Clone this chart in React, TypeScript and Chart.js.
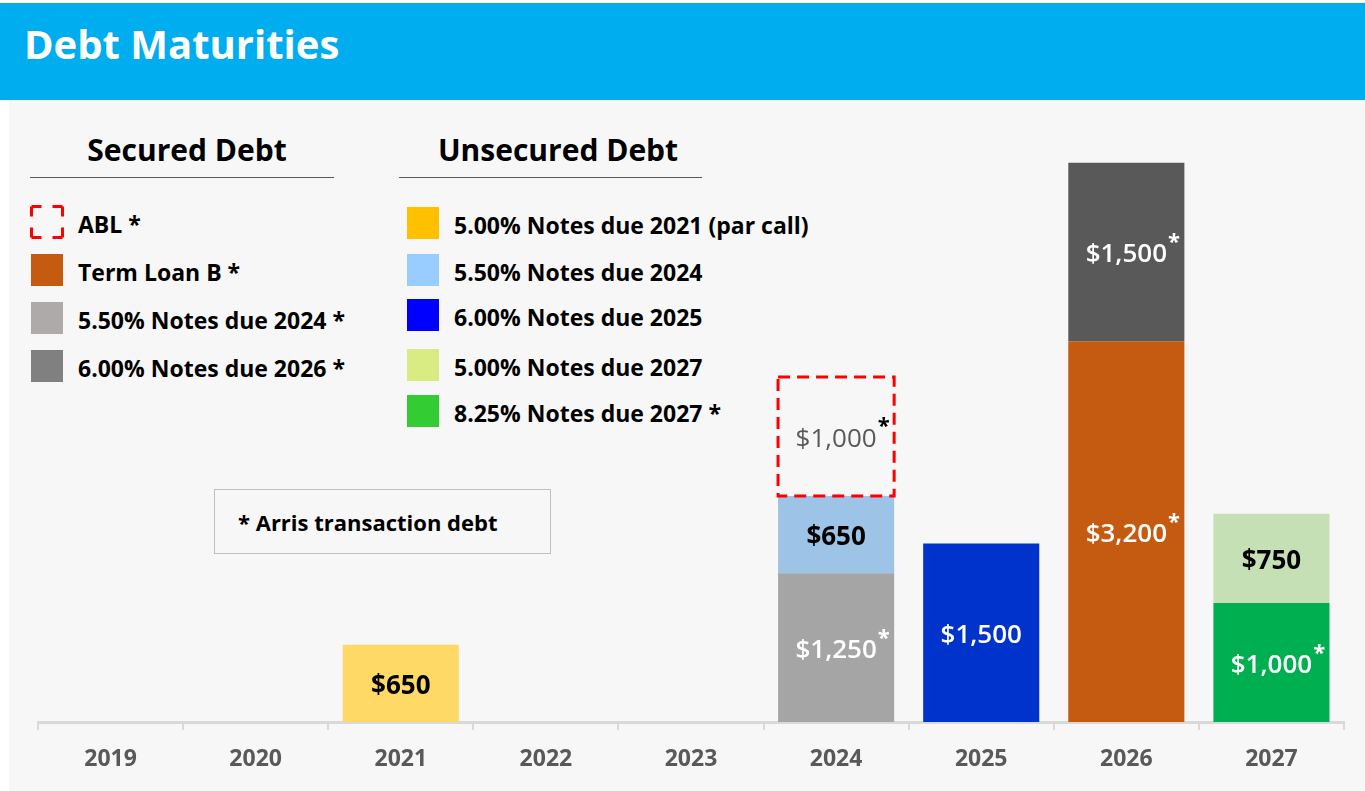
import React, { useEffect, useRef } from "react";
import { Chart, registerables } from "chart.js";

Chart.register(...registerables);

// ---------- DATA ----------
const years = ["2019", "2020", "2021", "2022", "2023", "2024", "2025", "2026", "2027"];
const secNotes550due2024 = [null, null, null, null, null, 1250, null, null, null];
const notes500due2021 = [null, null, 650, null, null, null, null, null, null];
const notes600due2025 = [null, null, null, null, null, null, 1500, null, null];
const termLoanB = [null, null, null, null, null, null, null, 3200, null];
const notes825due2027 = [null, null, null, null, null, null, null, null, 1000];
const unsecNotes550due2024 = [null, null, null, null, null, 650, null, null, null];
const secNotes600due2026 = [null, null, null, null, null, null, null, 1500, null];
const notes500due2027 = [null, null, null, null, null, null, null, null, 750];
const abl = [null, null, null, null, null, 1000, null, null, null];

const securedLegend = [
  { label: "ABL *", color: "dashed" },
  { label: "Term Loan B *", color: "#C55A11" },
  { label: "5.50% Notes due 2024 *", color: "#AEAAAA" },
  { label: "6.00% Notes due 2026 *", color: "#808080" },
];
const unsecuredLegend = [
  { label: "5.00% Notes due 2021 (par call)", color: "#FFC000" },
  { label: "5.50% Notes due 2024", color: "#99CCFF" },
  { label: "6.00% Notes due 2025", color: "#0000FF" },
  { label: "5.00% Notes due 2027", color: "#D9EC83" },
  { label: "8.25% Notes due 2027 *", color: "#33CC33" },
];

// ---------- STYLES ----------
const FONT = "'Open Sans', 'Noto Sans', sans-serif";
const seriesDefs = [
  { name: "5.50% Notes due 2024 * (secured)", data: secNotes550due2024, bg: "#A5A5A5", txt: "#FFFFFF", star: "#FFFFFF", weight: "600", dashed: false },
  { name: "5.00% Notes due 2021", data: notes500due2021, bg: "#FFD966", txt: "#000000", star: null, weight: "bold", dashed: false },
  { name: "6.00% Notes due 2025", data: notes600due2025, bg: "#0033CC", txt: "#FFFFFF", star: null, weight: "600", dashed: false },
  { name: "Term Loan B *", data: termLoanB, bg: "#C55A11", txt: "#FFFFFF", star: "#FFFFFF", weight: "600", dashed: false },
  { name: "8.25% Notes due 2027 *", data: notes825due2027, bg: "#00B050", txt: "#FFFFFF", star: "#FFFFFF", weight: "600", dashed: false },
  { name: "5.50% Notes due 2024", data: unsecNotes550due2024, bg: "#9DC3E6", txt: "#000000", star: null, weight: "bold", dashed: false },
  { name: "6.00% Notes due 2026 *", data: secNotes600due2026, bg: "#595959", txt: "#FFFFFF", star: "#FFFFFF", weight: "600", dashed: false },
  { name: "5.00% Notes due 2027", data: notes500due2027, bg: "#C5E0B4", txt: "#000000", star: null, weight: "bold", dashed: false },
  { name: "ABL *", data: abl, bg: "rgba(0,0,0,0)", txt: "#595959", star: "#000000", weight: "normal", dashed: true },
];

const labelPlugin = {
  id: "barLabels",
  afterDatasetsDraw(chart: any) {
    const ctx = chart.ctx;
    ctx.save();
    chart.data.datasets.forEach((ds: any, i: number) => {
      const def = seriesDefs[i];
      const meta = chart.getDatasetMeta(i);
      meta.data.forEach((el: any, j: number) => {
        const v = ds.data[j];
        if (v == null) return;
        const p = el.getProps(["x", "y", "base", "width"], true);
        const left = p.x - p.width / 2;
        const top = Math.min(p.y, p.base);
        const bottom = Math.max(p.y, p.base);
        if (def.dashed) {
          ctx.save();
          ctx.strokeStyle = "#FF0000";
          ctx.lineWidth = 3;
          ctx.setLineDash([12, 7]);
          ctx.strokeRect(left, top, p.width, bottom - top);
          ctx.restore();
        }
        const cy = (top + bottom) / 2 + 3;
        const text = "$" + Number(v).toLocaleString("en-US");
        ctx.font = `${def.weight} 26px ${FONT}`;
        ctx.fillStyle = def.txt;
        ctx.textAlign = "center";
        ctx.textBaseline = "middle";
        ctx.fillText(text, p.x, cy);
        if (def.star) {
          const w = ctx.measureText(text).width;
          ctx.font = `bold 22px ${FONT}`;
          ctx.fillStyle = def.star;
          ctx.textAlign = "left";
          ctx.textBaseline = "alphabetic";
          ctx.fillText("*", p.x + w / 2 + 1, cy - 6);
        }
      });
    });
    ctx.restore();
  },
};

function LegendRow({ item, x, cy, textX }: any) {
  return (
    <div style={{ position: "absolute", left: 0, top: cy, width: 0, height: 0 }}>
      {item.color === "dashed" ? (
        <svg width="34" height="34" style={{ position: "absolute", left: x - 1, top: -17 }}>
          <rect x="1.5" y="1.5" width="31" height="31" fill="none" stroke="#FF0000" strokeWidth="3" strokeDasharray="10 11 10 0" />
        </svg>
      ) : (
        <div style={{ position: "absolute", left: x, top: -16, width: 32, height: 32, background: item.color }} />
      )}
      <div
        style={{
          position: "absolute",
          left: textX,
          top: -16,
          height: 36,
          lineHeight: "36px",
          whiteSpace: "nowrap",
          fontFamily: FONT,
          fontWeight: 700,
          fontSize: 23,
          color: "#000",
        }}
      >
        {item.label}
      </div>
    </div>
  );
}

export default function App() {
  const canvasRef = useRef<HTMLCanvasElement | null>(null);

  useEffect(() => {
    if (!canvasRef.current) return;
    const chart = new Chart(canvasRef.current, {
      type: "bar",
      data: {
        labels: years,
        datasets: seriesDefs.map((d) => ({
          label: d.name,
          data: d.data as any,
          backgroundColor: d.bg,
          borderWidth: 0,
          categoryPercentage: 1,
          barPercentage: 0.8,
        })),
      },
      options: {
        animation: false,
        responsive: true,
        maintainAspectRatio: false,
        layout: { padding: { left: 38, right: 21, top: 127, bottom: 0 } },
        plugins: {
          legend: { display: false },
          tooltip: { enabled: false },
          title: { display: false },
        },
        scales: {
          x: {
            stacked: true,
            afterFit: (s: any) => {
              s.height = 69;
            },
            grid: {
              display: true,
              drawOnChartArea: false,
              drawTicks: true,
              tickLength: 8,
              color: "#D9D9D9",
              lineWidth: 2,
              offset: true,
            },
            border: { display: true, color: "#D9D9D9", width: 3 },
            ticks: {
              color: "#595959",
              padding: 16,
              font: { family: FONT, weight: "bold", size: 23 },
            },
          },
          y: {
            stacked: true,
            display: false,
            min: 0,
            max: 5000,
          },
        },
      },
      plugins: [labelPlugin],
    });
    return () => chart.destroy();
  }, []);

  return (
    <div style={{ position: "absolute", left: 0, top: 0, width: 1365, height: 791, background: "#FFFFFF", overflow: "hidden" }}>
      <div style={{ position: "absolute", left: 0, top: 3, width: 1365, height: 97, background: "#00AEEF" }} />
      <div
        style={{
          position: "absolute",
          left: 24,
          top: 19,
          height: 50,
          lineHeight: "50px",
          fontFamily: FONT,
          fontWeight: 700,
          fontSize: 40,
          color: "#FFFFFF",
          whiteSpace: "nowrap",
        }}
      >
        Debt Maturities
      </div>
      <div style={{ position: "absolute", left: 9, top: 100, width: 1356, height: 691, background: "#F7F7F7" }} />

      {/* headers */}
      <div style={{ position: "absolute", left: 30, top: 130, width: 314, textAlign: "center", lineHeight: "40px", fontFamily: FONT, fontWeight: 700, fontSize: 30, color: "#000" }}>
        Secured Debt
      </div>
      <div style={{ position: "absolute", left: 30, top: 177, width: 304, height: 0, borderTop: "1.5px solid #595959" }} />
      <div style={{ position: "absolute", left: 399, top: 130, width: 318, textAlign: "center", lineHeight: "40px", fontFamily: FONT, fontWeight: 700, fontSize: 30, color: "#000" }}>
        Unsecured Debt
      </div>
      <div style={{ position: "absolute", left: 399, top: 177, width: 303, height: 0, borderTop: "1.5px solid #595959" }} />

      {securedLegend.map((it, i) => (
        <LegendRow key={"s" + i} item={it} x={31} textX={78} cy={[222, 270, 318, 366][i]} />
      ))}
      {unsecuredLegend.map((it, i) => (
        <LegendRow key={"u" + i} item={it} x={407} textX={454} cy={[223, 270, 315, 365, 411][i]} />
      ))}

      {/* note box */}
      <div style={{ position: "absolute", left: 214, top: 489, width: 335, height: 63, border: "1px solid #BFBFBF" }} />
      <div style={{ position: "absolute", left: 238, top: 504, lineHeight: "36px", whiteSpace: "nowrap", fontFamily: FONT, fontWeight: 700, fontSize: 22, color: "#000" }}>
        * Arris transaction debt
      </div>

      <div style={{ position: "absolute", left: 0, top: 0, width: 1365, height: 791 }}>
        <canvas ref={canvasRef} />
      </div>
    </div>
  );
}
